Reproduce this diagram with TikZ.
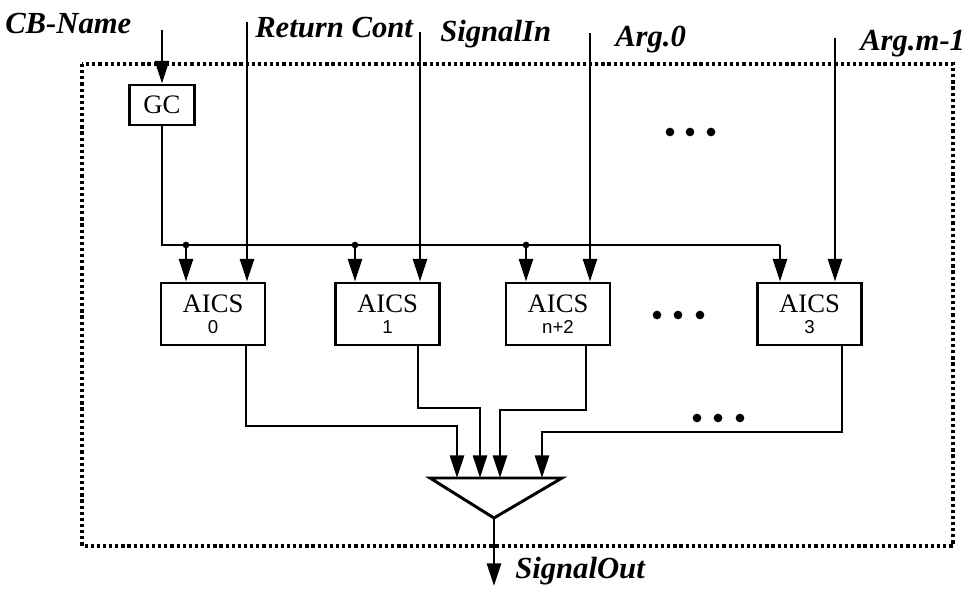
\documentclass[tikz,border=0pt]{standalone}
\usepackage{fontspec}
\setmainfont{Liberation Serif}
\newfontfamily\numfont{Liberation Sans}
\usetikzlibrary{arrows.meta}
\begin{document}
\begin{tikzpicture}[x=0.75pt,y=-0.75pt,
  wire/.style={line width=2pt},
  arr/.style={wire,-{Triangle[length=17pt,width=10.5pt]}},
  box/.style={draw,fill=white,line width=2.2pt,minimum width=78pt,minimum height=46.5pt,inner sep=0pt,align=center,font=\fontsize{20}{17}\selectfont},
  lbl/.style={font=\fontsize{23}{25}\selectfont\bfseries\itshape,inner sep=0pt},
  bigdot/.style={circle,fill,inner sep=0pt,minimum size=6.5pt},
  jdot/.style={circle,fill,inner sep=0pt,minimum size=5pt},
  border/.style={line width=2.4pt,dash pattern=on 2.4pt off 2.2pt}]
\useasboundingbox (0,0) rectangle (971,592);

% dotted enclosure
\draw[border] (82,64) rectangle (953,546);

% labels
\node[lbl,anchor=west] (lCB) at (5,24) {CB-Name};
\node[lbl,anchor=west] (lRC) at (255,28) {Return Cont};
\node[lbl,anchor=west] (lSI) at (440,34) {SignalIn};
\node[lbl,anchor=west] (lA0) at (615,40) {Arg.0};
\node[lbl,anchor=west] (lAm) at (860,44) {Arg.m-1};

% input start points
\coordinate (iCB) at (162,30);
\coordinate (iRC) at (247,22);
\coordinate (iSI) at (420,32);
\coordinate (iA0) at (590,33);
\coordinate (iAm) at (835,38);

% GC
\node[draw,fill=white,line width=2.2pt,minimum width=49pt,minimum height=30pt,inner sep=0pt,font=\fontsize{20}{22}\selectfont] (GC) at (162,105) {GC};

% AICS boxes
\node[box] (A0) at (213,314) {AICS\\[-1pt]{\numfont\fontsize{14}{15}\selectfont 0}};
\node[box] (A1) at (387.5,314) {AICS\\[-1pt]{\numfont\fontsize{14}{15}\selectfont 1}};
\node[box] (A2) at (558,314) {AICS\\[-1pt]{\numfont\fontsize{14}{15}\selectfont n+2}};
\node[box] (A3) at (809.5,314) {AICS\\[-1pt]{\numfont\fontsize{14}{15}\selectfont 3}};

% bus junctions
\coordinate (bus0) at (162,245);
\coordinate (j0) at (186,245);
\coordinate (j1) at (355,245);
\coordinate (j2) at (526,245);
\coordinate (j3) at (780,245);

% inputs
\draw[arr] (iCB) -- (GC.north);
\draw[arr] (iRC) -- (iRC |- A0.north);
\draw[arr] (iSI) -- (iSI |- A1.north);
\draw[arr] (iA0) -- (iA0 |- A2.north);
\draw[arr] (iAm) -- (iAm |- A3.north);

% GC bus
\draw[wire] (GC.south) -- (bus0) -- (j3);
\draw[arr] (j0) -- (j0 |- A0.north);
\draw[arr] (j1) -- (j1 |- A1.north);
\draw[arr] (j2) -- (j2 |- A2.north);
\draw[arr] (j3) -- (j3 |- A3.north);
\node[jdot] (d0) at (j0) {};
\node[jdot] (d1) at (j1) {};
\node[jdot] (d2) at (j2) {};

% combiner triangle
\coordinate (tL) at (430,478);
\coordinate (tR) at (562,478);
\coordinate (tA) at (494,518);
\draw[line width=2.2pt,line join=miter] (tL) -- (tR) -- (tA) -- cycle;
\coordinate (m0) at (457,478);
\coordinate (m1) at (480,478);
\coordinate (m2) at (500,478);
\coordinate (m3) at (542,478);

% outputs
\coordinate (o0) at (246,426);
\coordinate (o1) at (418,408);
\coordinate (o2) at (586,410);
\coordinate (o3) at (842,432);
\draw[arr] (o0 |- A0.south) -- (o0) -| (m0);
\draw[arr] (o1 |- A1.south) -- (o1) -| (m1);
\draw[arr] (o2 |- A2.south) -- (o2) -| (m2);
\draw[arr] (o3 |- A3.south) -- (o3) -| (m3);

% output
\coordinate (out) at (494,586);
\draw[arr] (tA) -- (out);
\node[lbl,anchor=west] (lSO) at (515,571) {SignalOut};

% ellipses
\foreach \x [count=\i] in {670,690,711} \node[bigdot] (ua\i) at (\x,132) {};
\foreach \x [count=\i] in {657,678,700} \node[bigdot] (ma\i) at (\x,315) {};
\foreach \x [count=\i] in {697,718,740} \node[bigdot] (la\i) at (\x,418) {};
\end{tikzpicture}
\end{document}
